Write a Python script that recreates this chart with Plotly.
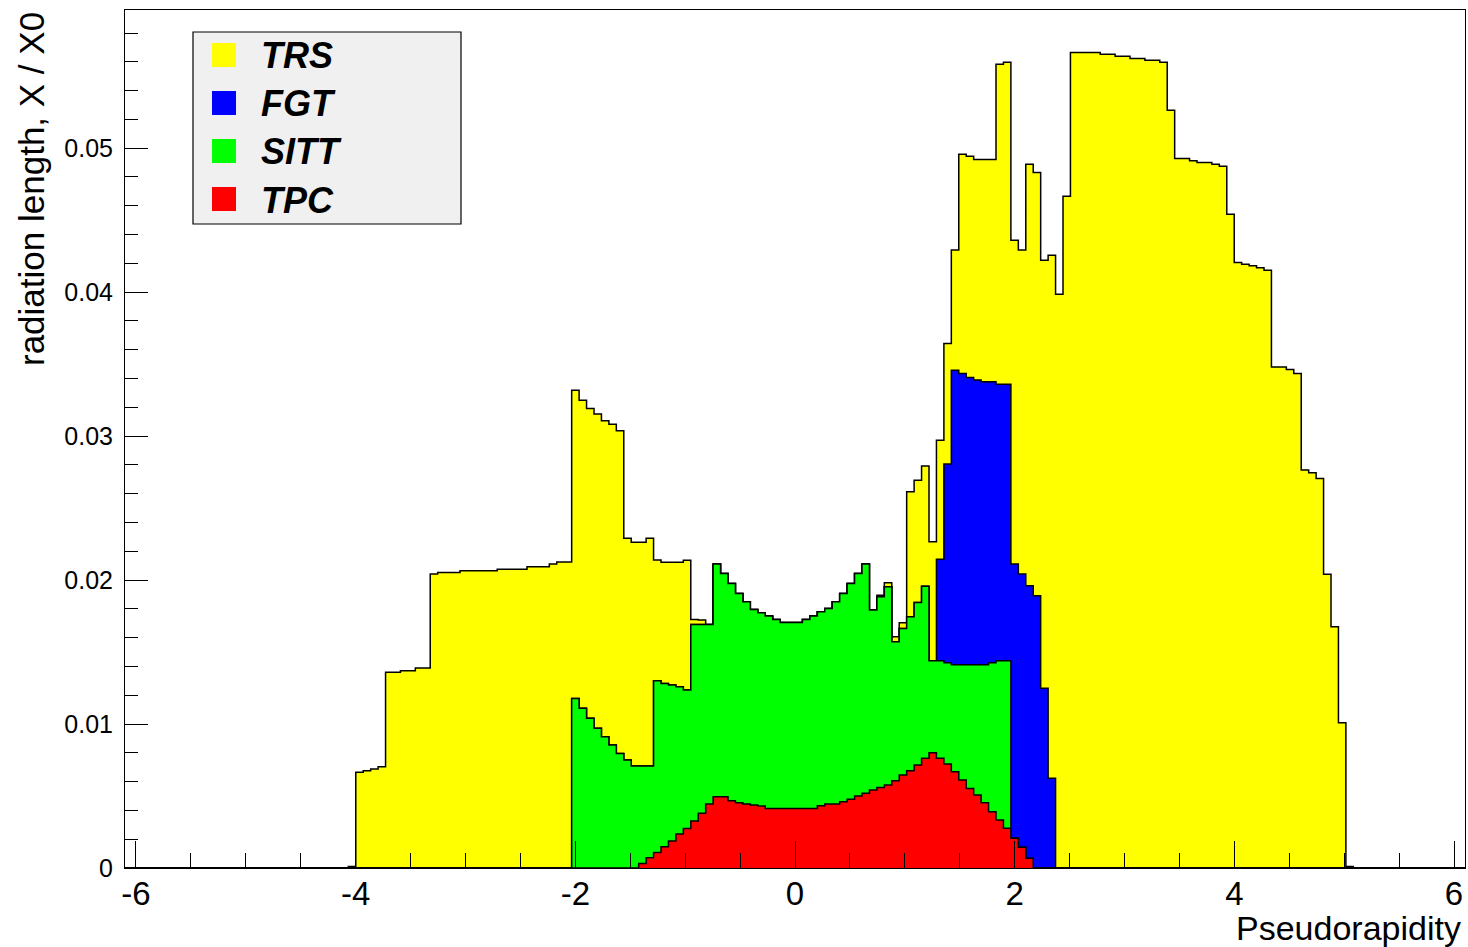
import numpy as np
import plotly.graph_objects as go

# Histogram binning (pseudorapidity axis)
ETA_MIN, ETA_MAX, N_BINS = -6.1, 6.1, 180

series_names = ["TRS", "FGT", "SITT", "TPC"]
series_colors = ["#ffff00", "#0000ff", "#00ff00", "#ff0000"]

# Per-detector radiation length, X/X0, per bin, starting at the given bin index
tpc_first_bin = 69
tpc = [0.00032, 0.00072, 0.00107, 0.00148, 0.00188, 0.00236, 0.00275, 0.00326, 0.0038, 0.00444,
       0.00495, 0.00495, 0.00468, 0.00454, 0.00444, 0.00438, 0.0043, 0.00414, 0.00414, 0.00414,
       0.00414, 0.00414, 0.00414, 0.00414, 0.00433, 0.00444, 0.00444, 0.0046, 0.00477, 0.005,
       0.00519, 0.00542, 0.0056, 0.00576, 0.00606, 0.00646, 0.00676, 0.00715, 0.00762, 0.00801,
       0.00762, 0.00722, 0.00669, 0.00611, 0.00553, 0.00507, 0.00454, 0.00391, 0.00333, 0.00276,
       0.00206, 0.00144, 0.00067]

sitt_first_bin = 60
sitt = [0.01178, 0.01109, 0.0104, 0.0097, 0.00912, 0.00854, 0.00796, 0.0075, 0.00708, 0.00676,
        0.00636, 0.01194, 0.01134, 0.01083, 0.01023, 0.00961, 0.01366, 0.01312, 0.01248, 0.01616,
        0.01551, 0.01509, 0.01453, 0.01406, 0.01358, 0.01343, 0.01336, 0.01313, 0.01292, 0.01292,
        0.01292, 0.01313, 0.01336, 0.01347, 0.01359, 0.01406, 0.01447, 0.015, 0.01546, 0.01592,
        0.0125, 0.01324, 0.01378, 0.00966, 0.01018, 0.01069, 0.0113, 0.01196, 0.00639, 0.00678,
        0.00704, 0.00743, 0.00801, 0.00859, 0.00905, 0.00958, 0.01035, 0.01107, 0.01164]

fgt_first_bin = 109
fgt = [0.00704, 0.0138, 0.02046, 0.02023, 0.01995, 0.01977, 0.01965, 0.01951, 0.01921, 0.01921,
       0.01905, 0.01898, 0.01893, 0.01891, 0.01248, 0.00623]

trs_first_bin = 30
trs = [0.0001, 0.00665, 0.00676, 0.00688, 0.00704, 0.01359, 0.01359, 0.0137, 0.0137, 0.0139,
       0.0139, 0.02042, 0.02053, 0.02053, 0.02053, 0.02065, 0.02065, 0.02065, 0.02065, 0.02065,
       0.02076, 0.02076, 0.02076, 0.02076, 0.02093, 0.02093, 0.02093, 0.02111, 0.02125, 0.02125,
       0.02141, 0.02141, 0.02152, 0.02183, 0.02194, 0.02229, 0.02241, 0.0154, 0.01554, 0.01554,
       0.01582, 0.00838, 0.00841, 0.00852, 0.00864, 0.00901, 0.00035, 0.0003, 0, 0,
       0, 0, 0, 0, 0, 0, 0, 0, 0, 0,
       0, 0, 0, 0, 0, 0, 0, 0, 0, 0,
       0, 0.00011, 0.00028, 0.00035, 0.0004, 0.00868, 0.00849, 0.00834, 0.00826, 0.00828,
       0.00838, 0.00834, 0.01523, 0.01537, 0.01532, 0.01544, 0.01544, 0.02222, 0.02236, 0.0225,
       0.0225, 0.02929, 0.0294, 0.02974, 0.03634, 0.03986, 0.04667, 0.05664, 0.05664, 0.05664,
       0.05664, 0.05653, 0.05653, 0.05639, 0.05639, 0.05623, 0.05623, 0.05611, 0.05611, 0.05597,
       0.05264, 0.04928, 0.04928, 0.04912, 0.049, 0.049, 0.04889, 0.04875, 0.04542, 0.04206,
       0.04194, 0.04183, 0.04169, 0.04153, 0.03481, 0.03481, 0.03463, 0.03435, 0.02764, 0.02745,
       0.02706, 0.0204, 0.01676, 0.01009, 0.0001]

x_tick_vals = [-6, -4, -2, 0, 2, 4, 6]
x_tick_text = ["-6", "-4", "-2", "0", "2", "4", "6"]
y_tick_vals = [0, 0.01, 0.02, 0.03, 0.04, 0.05]
y_tick_text = ["0", "0.01", "0.02", "0.03", "0.04", "0.05"]

x_title = "Pseudorapidity"
y_title = "radiation length, X / X0"


def full(first, vals):
    a = np.zeros(N_BINS)
    a[first:first + len(vals)] = vals
    return a


h_tpc = full(tpc_first_bin, tpc)
h_sitt = full(sitt_first_bin, sitt)
h_fgt = full(fgt_first_bin, fgt)
h_trs = full(trs_first_bin, trs)

# THStack: cumulative sums, drawn from the top layer down
c_tpc = h_tpc
c_sitt = c_tpc + h_sitt
c_fgt = c_sitt + h_fgt
c_trs = c_fgt + h_trs
stacks = [c_trs, c_fgt, c_sitt, c_tpc]

edges = np.linspace(ETA_MIN, ETA_MAX, N_BINS + 1)

fig = go.Figure()
for name, color, cum in zip(series_names, series_colors, stacks):
    fig.add_trace(go.Scatter(
        x=edges, y=np.append(cum, cum[-1]), name=name,
        mode="lines", line=dict(shape="hv", color="black", width=1.5),
        fill="tozeroy", fillcolor=color, showlegend=False, hoverinfo="skip"))

FONT = "Liberation Sans, Arial, Helvetica, sans-serif"
W, H = 1468, 947
ML, MR, MT, MB = 125, 3, 10, 79
pw, ph = W - ML - MR, H - MT - MB


def px(xp):
    return (xp - ML) / pw


def py(yp):
    return (H - MB - yp) / ph


fig.update_layout(
    width=W, height=H,
    margin=dict(l=ML, r=MR, t=MT, b=MB),
    paper_bgcolor="white", plot_bgcolor="white",
    font=dict(family=FONT, color="black"),
    xaxis=dict(range=[ETA_MIN, ETA_MAX], showgrid=False, zeroline=False,
               showline=True, linecolor="black", linewidth=1, mirror=True,
               ticks="inside", ticklen=27, tickwidth=1, tickcolor="black",
               tickvals=x_tick_vals, ticktext=x_tick_text,
               tickfont=dict(size=33, family=FONT), ticklabelstandoff=-4,
               minor=dict(ticks="inside", ticklen=15, tickwidth=1, tickcolor="black",
                          dtick=0.5, tick0=0, showgrid=False)),
    yaxis=dict(range=[0, 0.0596], showgrid=False, zeroline=False,
               showline=True, linecolor="black", linewidth=1, mirror=True,
               ticks="inside", ticklen=23, tickwidth=1, tickcolor="black",
               tickvals=y_tick_vals, ticktext=y_tick_text,
               tickfont=dict(size=25, family=FONT), ticklabelstandoff=6,
               minor=dict(ticks="inside", ticklen=13, tickwidth=1, tickcolor="black",
                          dtick=0.002, tick0=0, showgrid=False)),
)

annotations = [
    dict(text=x_title, xref="paper", yref="paper", x=px(1463), y=py(928),
         xanchor="right", yanchor="middle", showarrow=False,
         font=dict(size=34, family=FONT, color="black")),
    dict(text=y_title, xref="paper", yref="paper", x=px(31), y=py(10),
         xanchor="center", yanchor="top", textangle=-90, showarrow=False,
         font=dict(size=35, family=FONT, color="black")),
]

shapes = [dict(type="rect", xref="paper", yref="paper",
               x0=px(193), x1=px(461), y0=py(224), y1=py(32),
               fillcolor="#f0f0f0", line=dict(color="black", width=1.2), layer="above")]

legend_rows = [55, 103, 151, 199]
for name, color, yc in zip(series_names, series_colors, legend_rows):
    shapes.append(dict(type="rect", xref="paper", yref="paper",
                       x0=px(212), x1=px(236), y0=py(yc + 12), y1=py(yc - 12),
                       fillcolor=color, line=dict(width=0), layer="above"))
    annotations.append(dict(text="<b><i>" + name + "</i></b>", xref="paper", yref="paper",
                            x=px(259), y=py(yc + 1), xanchor="left", yanchor="middle",
                            showarrow=False, font=dict(size=36, family=FONT, color="black")))

fig.update_layout(shapes=shapes, annotations=annotations)
fig.write_html("out.html",
               config={"displayModeBar": False},
               post_script="document.body.style.margin='0px';"
                           "document.body.style.overflow='hidden';")
